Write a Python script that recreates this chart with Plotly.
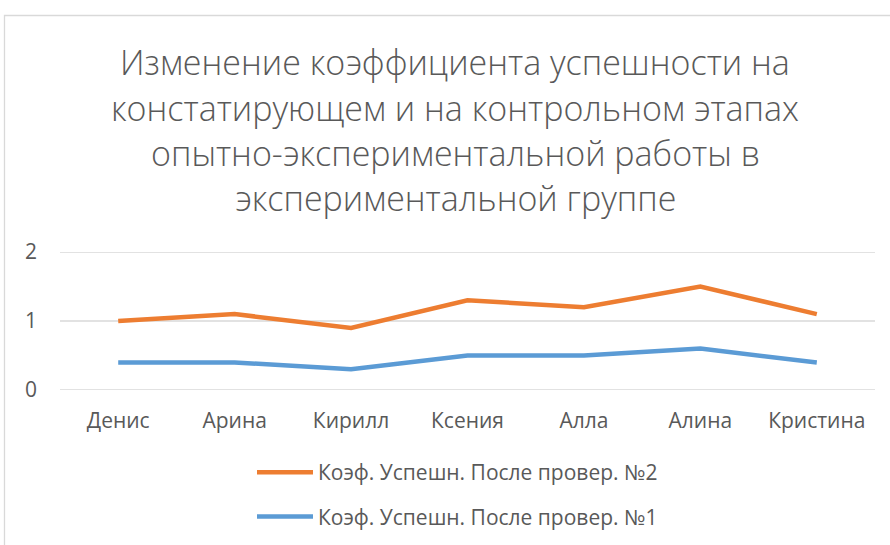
import plotly.graph_objects as go

categories = ["Денис", "Арина", "Кирилл", "Ксения", "Алла", "Алина", "Кристина"]
series2_name = "Коэф. Успешн. После провер. №2"
series2 = [1.0, 1.1, 0.9, 1.3, 1.2, 1.5, 1.1]
series1_name = "Коэф. Успешн. После провер. №1"
series1 = [0.4, 0.4, 0.3, 0.5, 0.5, 0.6, 0.4]
y_ticks = [0, 1, 2]
title_lines = ["Изменение коэффициента успешности на",
               "констатирующем и на контрольном этапах",
               "опытно-экспериментальной работы в",
               "экспериментальной группе"]

W, H = 890, 545
# target plot area in screen pixels
PX0, PX1, PY0, PY1 = 60, 875, 252, 390
L, T = PX0, PY0
pw, ph = PX1 - PX0, PY1 - PY0
R, B = W - L - pw, H - T - ph
FONT = "Open Sans"
GREY = "#595959"
GRID = "#D9D9D9"

fig = go.Figure()
fig.add_trace(go.Scatter(x=categories, y=series2, name=series2_name, mode="lines",
                         line=dict(color="#ED7D31", width=4.5), legendgroup="a"))
fig.add_trace(go.Scatter(x=categories, y=series1, name=series1_name, mode="lines",
                         line=dict(color="#5B9BD5", width=4.5), legendgroup="b"))

def sx(px):
    return (px - PX0) / pw

def sy(py):
    return (PY1 - py) / ph

title_y = [62, 108, 153, 198]
annotations = [dict(text=t, xref="paper", yref="paper", x=sx(455), y=sy(yy),
                    xanchor="center", yanchor="middle", showarrow=False,
                    font=dict(family=FONT, size=34, color=GREY, weight=300))
               for t, yy in zip(title_lines, title_y)]

shapes = [dict(type="line", xref="paper", yref="y", x0=0, x1=1, y0=v, y1=v,
               line=dict(color=GRID, width=1.3), layer="below") for v in y_ticks]
shapes.append(dict(type="rect", xref="paper", yref="paper",
                   x0=sx(4.5), x1=sx(910), y0=sy(570), y1=sy(15.5),
                   line=dict(color=GRID, width=1.3), fillcolor="rgba(0,0,0,0)", layer="below"))

fig.update_layout(
    width=W, height=H,
    margin=dict(l=L, r=R, t=T, b=B, autoexpand=False),
    paper_bgcolor="white", plot_bgcolor="white",
    font=dict(family=FONT, color=GREY, size=21),
    annotations=annotations,
    xaxis=dict(type="category", range=[-0.5, len(categories) - 0.5], showgrid=False,
               showline=False, zeroline=False, ticks="", ticklabelstandoff=16, tickangle=0,
               automargin=False, tickfont=dict(size=21, color=GREY)),
    yaxis=dict(range=[0, 2], tickvals=y_ticks, showgrid=False,
               zeroline=False, showline=False, ticks="", ticklabelstandoff=22,
               automargin=False, tickfont=dict(size=21, color=GREY)),
    legend=dict(orientation="v",
                x=sx(252), y=sy(452), xanchor="left", yanchor="top",
                font=dict(size=21, color=GREY), tracegroupgap=14, itemwidth=56,
                bgcolor="rgba(0,0,0,0)"),
    shapes=shapes,
)

fig.write_html("out.html", config={"displayModeBar": False},
               post_script="document.body.style.margin='0';document.body.style.padding='0';")
